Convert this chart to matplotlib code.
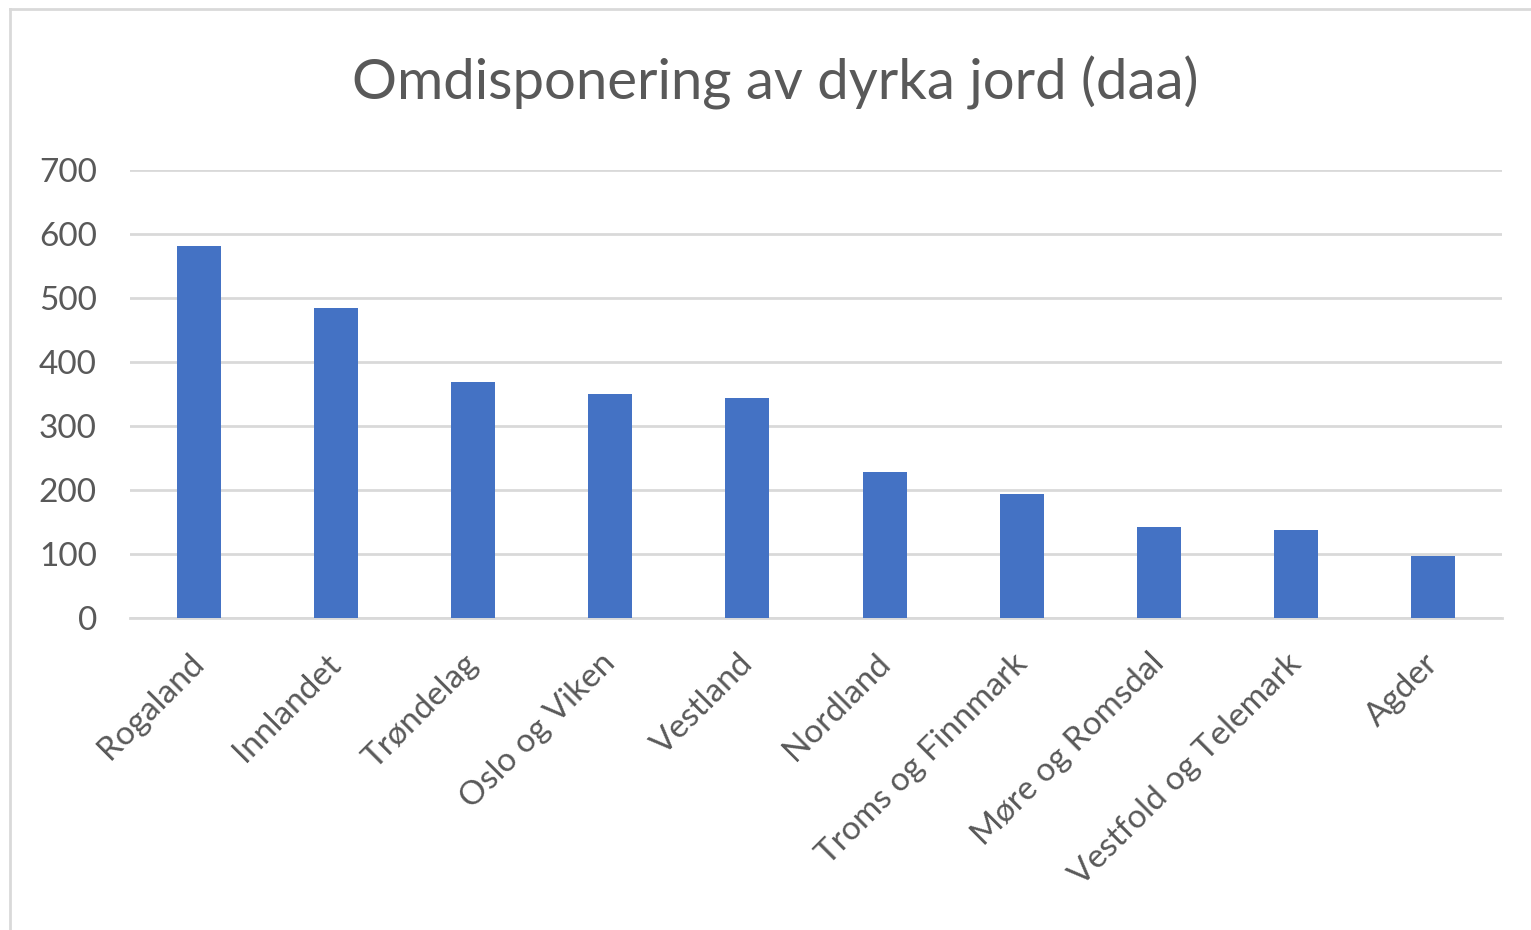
import matplotlib.pyplot as plt
from matplotlib.lines import Line2D
import matplotlib.transforms as mtransforms
import numpy as np

regions = ['Rogaland', 'Innlandet', 'Trøndelag', 'Oslo og Viken', 'Vestland',
           'Nordland', 'Troms og Finnmark', 'Møre og Romsdal',
           'Vestfold og Telemark', 'Agder']
daa = [581, 485, 369, 349, 344, 228, 193, 142, 137, 97]
yticks = [0, 100, 200, 300, 400, 500, 600, 700]

plt.rcParams['font.family'] = ['Lato', 'DejaVu Sans']

fig = plt.figure(figsize=[15.31, 9.30], dpi=100)
ax = fig.add_axes([0.085, 0.336, 0.896, 0.481])

x = np.arange(len(regions))
ax.bar(x, daa, width=0.32, color='#4472C4', zorder=3)

ax.set_xlim(-0.5, len(regions) - 0.5)
ax.set_ylim(0, 700)
ax.set_yticks(yticks)
ax.set_yticklabels([str(v) for v in yticks])
ax.yaxis.grid(True, color='#d9d9d9', linewidth=2, zorder=0)
ax.tick_params(axis='y', length=0, pad=24, labelsize=24, labelcolor='#595959')
ax.tick_params(axis='x', length=0, pad=22, labelsize=24, labelcolor='#595959')
ax.set_xticks(x)
ax.set_xticklabels(regions, rotation=45, ha='right', rotation_mode='anchor')
# nudge the slanted labels a little to the left
shift = mtransforms.ScaledTranslation(-10 / 100, 0, fig.dpi_scale_trans)
for lbl in ax.get_xticklabels():
    lbl.set_transform(lbl.get_transform() + shift)
for s in ['top', 'right', 'left']:
    ax.spines[s].set_visible(False)
ax.spines['bottom'].set_color('#d9d9d9')
ax.spines['bottom'].set_linewidth(2)

fig.text(0.5065, 0.911, 'Omdisponering av dyrka jord (daa)', ha='center', va='center',
         fontsize=40.5, color='#595959')

# thin frame at top and left, as in the screenshot
fig.add_artist(Line2D([10 / 1531, 1], [1 - 9 / 930, 1 - 9 / 930], color='#d9d9d9', lw=2))
fig.add_artist(Line2D([10 / 1531, 10 / 1531], [0, 1 - 9 / 930], color='#d9d9d9', lw=2))

plt.savefig('out.png', dpi=100)
